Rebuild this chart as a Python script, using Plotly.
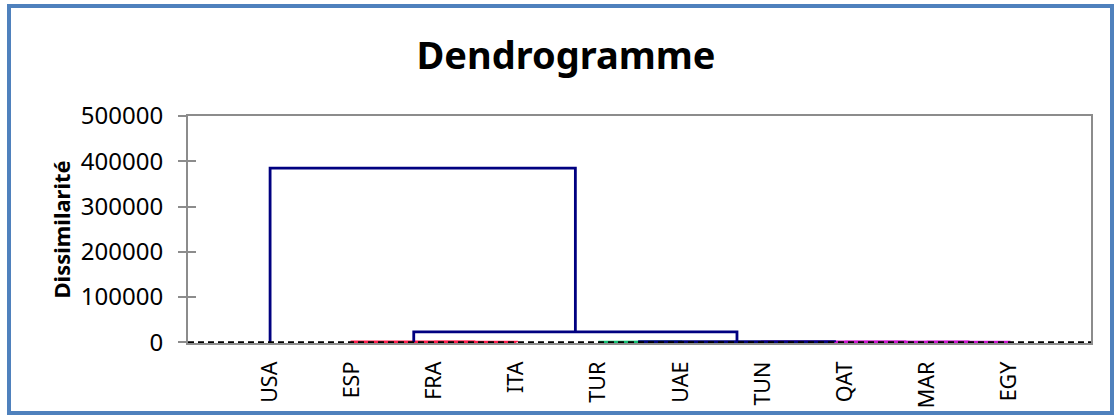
import plotly.graph_objects as go

# ---------------- data ----------------
leaves = ["USA", "ESP", "FRA", "ITA", "TUR", "UAE", "TUN", "QAT", "MAR", "EGY"]
# merges: (left member, right member, height, colour)
merge_left = ["FRA", "ESP", "TUR", "MAR", "QAT", "TUN", "C3", "C2", "USA"]
merge_right = ["ITA", "C1", "UAE", "EGY", "C4", "C5", "C6", "C7", "C8"]
merge_height = [150, 400, 300, 100, 250, 500, 1500, 23000, 385000]
merge_color = ["#FF1A4B", "#FF1A4B", "#10C070", "#CC10CC", "#CC10CC", "#CC10CC",
               "#000080", "#000080", "#000080"]
y_ticks = [0, 100000, 200000, 300000, 400000, 500000]

# ---------------- build dendrogram ----------------
pos = {name: i + 1 for i, name in enumerate(leaves)}
hgt = {name: 0 for name in leaves}

fig = go.Figure()
for k, (a, b, h, c) in enumerate(zip(merge_left, merge_right, merge_height, merge_color)):
    xa, xb = pos[a], pos[b]
    fig.add_trace(go.Scatter(
        x=[xa, xa, xb, xb], y=[hgt[a], h, h, hgt[b]],
        mode="lines", line=dict(color=c, width=2.8 if c == "#000080" else 3.2),
        hoverinfo="skip", showlegend=False))
    node = "C%d" % (k + 1)
    pos[node] = (xa + xb) / 2
    hgt[node] = h

# dashed truncation line at 0
fig.add_hline(y=0, line=dict(color="black", width=2, dash="6px,4px"), layer="above")

grey = "#8C8C8C"
fig.update_layout(
    width=1117, height=416,
    margin=dict(l=188, r=26, t=116, b=73, autoexpand=False),
    paper_bgcolor="white", plot_bgcolor="white",
    font=dict(family="Noto Sans", color="black"),
    title=dict(text="<b>Dendrogramme</b>", x=(566) / 1117, xref="container", xanchor="center",
               y=1 - 56 / 416, yref="container", yanchor="middle",
               font=dict(family="Noto Sans", size=38, color="black")),
    xaxis=dict(range=[0, 11], tickmode="array", tickvals=list(range(1, len(leaves) + 1)),
               ticktext=leaves, tickangle=-90, ticks="", showgrid=False, zeroline=False,
               showline=True, linecolor=grey, linewidth=2, mirror=True, automargin=False,
               tickfont=dict(size=21.5, family="Noto Sans"), ticklabelstandoff=8),
    yaxis=dict(range=[-1500, 500000], tickmode="array", tickvals=y_ticks,
               ticktext=[str(v) for v in y_ticks], ticks="outside", ticklen=8,
               tickcolor=grey, tickwidth=2, showgrid=False, zeroline=False,
               showline=True, linecolor=grey, linewidth=2, mirror=True, automargin=False,
               tickfont=dict(size=24, family="Noto Sans"), ticklabelstandoff=10),
    yaxis2=dict(overlaying="y", matches="y", anchor="x", side="left",
                tickmode="array", tickvals=y_ticks, ticks="inside", ticklen=8,
                tickcolor=grey, tickwidth=2, showticklabels=False, showgrid=False,
                zeroline=False, showline=False, automargin=False),
)
# dummy trace to activate yaxis2
fig.add_trace(go.Scatter(x=[None], y=[None], yaxis="y2", showlegend=False, hoverinfo="skip"))

fig.add_annotation(text="<b>Dissimilarité</b>", xref="paper", yref="paper",
                   x=(60 - 188) / 903, y=0.5, textangle=-90, showarrow=False,
                   xanchor="center", yanchor="middle",
                   font=dict(size=22, family="Noto Sans", color="black"))

# outer frame
fig.add_shape(type="rect", xref="paper", yref="paper",
              x0=(9 - 188) / 903, x1=(1112 - 188) / 903,
              y0=(343 - 413) / 227, y1=(343 - 6) / 227,
              line=dict(color="#4F81BD", width=4), fillcolor="rgba(0,0,0,0)")

fig.write_html("out.html", config={"displayModeBar": False},
               post_script="document.body.style.margin='0';")
